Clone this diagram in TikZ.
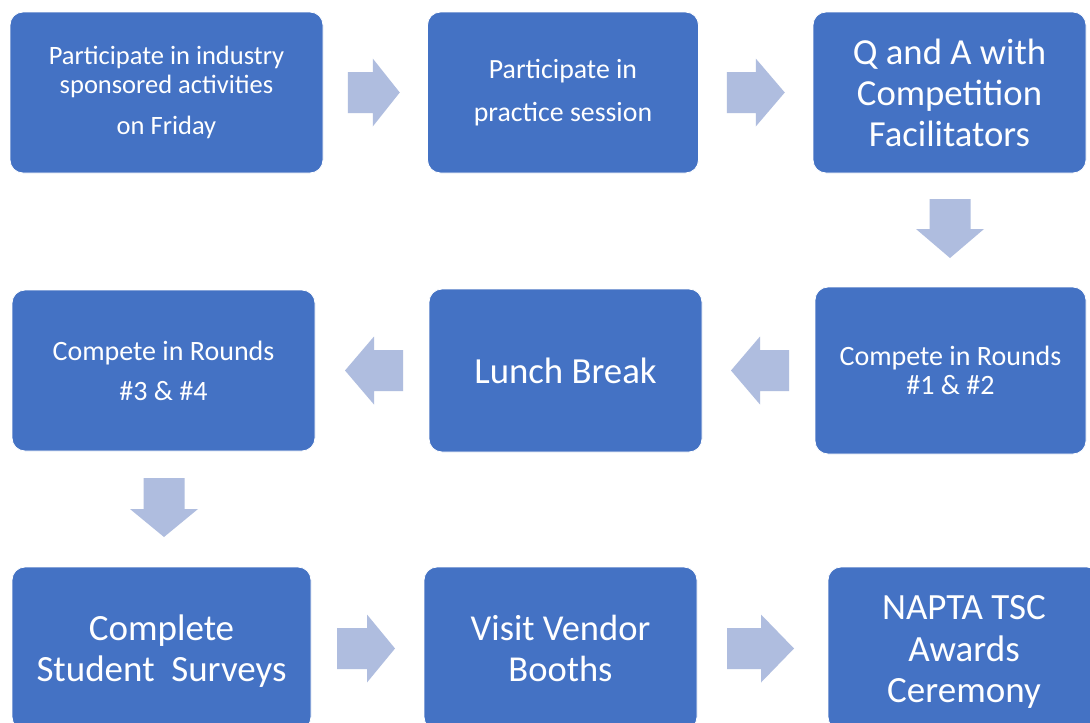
\documentclass[tikz,border=0pt]{standalone}
\usepackage{fontspec}
\setmainfont{Carlito}
\usetikzlibrary{calc}
\definecolor{boxblue}{RGB}{68,114,196}
\definecolor{arrowblue}{RGB}{175,189,223}
% block arrow: #1 centre coordinate, #2 rotation, #3 length, #4 head length
\newcommand\blockarw[4]{%
  \begin{scope}[shift={(#1)},rotate=#2]
    \fill[arrowblue] ({-#3/2},-20.5) -- ({#3/2-#4},-20.5) -- ({#3/2-#4},-34)
      -- ({#3/2},0) -- ({#3/2-#4},34) -- ({#3/2-#4},20.5) -- ({-#3/2},20.5) -- cycle;
  \end{scope}}
\begin{document}
\begin{tikzpicture}[x=1pt,y=-1pt,
  box/.style={rectangle, rounded corners=13pt, fill=boxblue, draw=white, line width=0.8pt,
    text=white, align=center, inner sep=0pt}]
\useasboundingbox (0,0) rectangle (1090,723);
\fill[white] (0,0) rectangle (1090,723);
% row 1
\node[box, minimum width=313pt, minimum height=161pt, font=\fontsize{26.5}{29}\selectfont]
  (b1) at (166.5,92.5) {Participate in industry\\ sponsored activities\\[12pt] on Friday};
\node[box, minimum width=271pt, minimum height=161pt, font=\fontsize{27.8}{43}\selectfont]
  (b2) at (563,92.5) {Participate in\\ practice session};
\node[box, minimum width=273pt, minimum height=161pt, font=\fontsize{36.7}{41}\selectfont]
  (b3) at (949.5,92.5) {Q and A with\\ Competition\\ Facilitators};
% row 2
\node[box, minimum width=303pt, minimum height=161pt, font=\fontsize{28}{40}\selectfont]
  (b4) at (163.5,370.5) {Compete in Rounds\\ \#3 \& \#4};
\node[box, minimum width=273pt, minimum height=163pt, font=\fontsize{36.8}{41}\selectfont]
  (b5) at (565.5,370.5) {Lunch Break};
\node[box, minimum width=271pt, minimum height=167pt, font=\fontsize{28}{29}\selectfont]
  (b6) at (950.5,370.5) {Compete in Rounds\\ \#1 \& \#2};
% row 3
\node[box, minimum width=299pt, minimum height=163pt, font=\fontsize{37}{41}\selectfont]
  (b7) at (161.5,648.5) {\rule{0pt}{6pt}\\[-16pt]Complete\\ Student\ \ Surveys};
\node[box, minimum width=273pt, minimum height=163pt, font=\fontsize{36.5}{41}\selectfont]
  (b8) at (560.5,648.5) {Visit Vendor\\ Booths};
\node[box, minimum width=272pt, minimum height=163pt, font=\fontsize{37}{41.5}\selectfont]
  (b9) at (964,648.5) {\rule{0pt}{6pt}\\[-16pt]NAPTA TSC\\ Awards\\ Ceremony};
% block arrow centres
\coordinate (a1) at ($(b1.east)!0.5!(b2.west)+(-1.5,0)$);
\coordinate (a2) at ($(b2.east)!0.5!(b3.west)$);
\coordinate (a3) at ($(b3.south)!0.5!(b6.north)+(0,-1.5)$);
\coordinate (a4) at ($(b6.west)!0.5!(b5.east)+(1.5,0)$);
\coordinate (a5) at ($(b5.west)!0.5!(b4.east)+(2,0)$);
\coordinate (a6) at ($(b4.south)!0.5!(b7.north)+(1.5,-1.5)$);
\coordinate (a7) at ($(b7.east)!0.5!(b8.west)+(-1.5,0)$);
\coordinate (a8) at ($(b8.east)!0.5!(b9.west)+(-2,0)$);
\blockarw{a1}{0}{52}{27}
\blockarw{a2}{0}{58}{29}
\blockarw{a3}{-90}{59}{29}
\blockarw{a4}{180}{58}{29}
\blockarw{a5}{180}{58}{29}
\blockarw{a6}{-90}{59}{28}
\blockarw{a7}{0}{58}{28}
\blockarw{a8}{0}{67}{33}
\end{tikzpicture}
\end{document}
